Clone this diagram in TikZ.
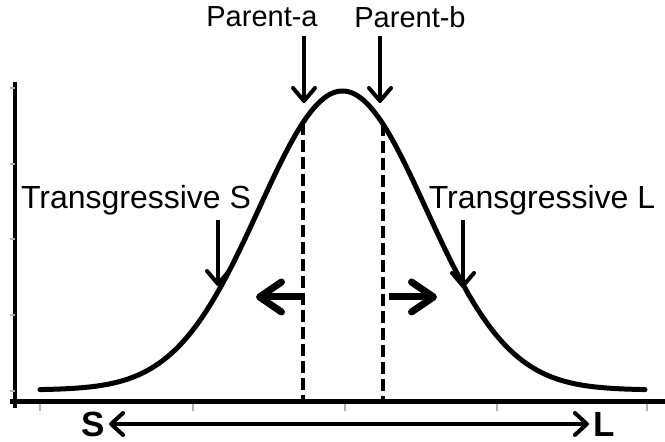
\documentclass[tikz,border=0pt]{standalone}
\usepackage{fontspec}
\setmainfont{Liberation Sans}
\usetikzlibrary{positioning,arrows.meta}
\tikzset{
axisline/.style={
line width=2.5pt
},
ytick/.style={
gray!60,
line width=0.6pt
},
bell/.style={
line width=2.5pt,
line join=round,
line cap=round
},
parentline/.style={
line width=2pt,
dash pattern=on 6pt off 2.5pt
},
lbl/.style={
font=\fontsize{14.5}{16}\selectfont,
inner sep=0pt
},
translbl/.style={
font=\fontsize{16}{18}\selectfont,
inner sep=0pt
},
endlbl/.style={
font=\fontsize{17.5}{18}\selectfont\bfseries,
inner sep=2pt
},
downarrow/.style={
line width=2pt,
-{Straight Barb[round,length=6.5pt,width=11pt]}
},
spread/.style={
line width=3.5pt,
-{Straight Barb[round,length=11pt,width=15pt]}
},
bothway/.style={
line width=2pt,
{Straight Barb[round,length=6pt,width=11pt]}-{Straight Barb[round,length=6pt,width=11pt]}
}
}

\begin{document}
\begin{tikzpicture}[x=0.5pt,y=-0.5pt,
declare function={gy(\t)=390-299*exp(-0.5*((\t-342.5)/83.5)*((\t-342.5)/83.5));}]
\useasboundingbox (0,0) rectangle (665,442);

% axes
\draw[axisline] (10,402) -- (665,402);
\draw[line width=1.8pt] (15,82) -- (15,408);
\foreach \y in {88,164,239,315,391}
\draw[ytick] (10,\y) -- (15,\y);
\foreach \x in {40,193,345,497,647}
\draw[ytick] (\x,404) -- (\x,411);

% normal curve
\draw[bell] plot[smooth,samples=121,domain=40:645] (\x,{gy(\x)});

% parents
\coordinate (da-top) at (303,{gy(303)});
\coordinate (da-bot) at (303,400);
\coordinate (db-top) at (383,{gy(383)});
\coordinate (db-bot) at (383,400);
\draw[parentline] (da-top) -- (da-bot);
\draw[parentline] (db-top) -- (db-bot);

\node[lbl](pa) at (262,17){Parent-a};
\node[lbl](pb) at (410,17){Parent-b};
\coordinate (pa-top) at (304,36);
\coordinate (pa-tip) at (304,103);
\coordinate (pb-top) at (380,36);
\coordinate (pb-tip) at (380,103);

% transgressive
\node[translbl](ts) at (136,200){Transgressive S};
\node[translbl](tl) at (542,200){Transgressive L};
\coordinate (ts-top) at (218,220);
\coordinate (ts-tip) at (218,286);
\coordinate (tl-top) at (463,220);
\coordinate (tl-tip) at (463,288);

\foreach \x/\y in {pa-top/pa-tip,pb-top/pb-tip,ts-top/ts-tip,tl-top/tl-tip}
\draw[downarrow](\x)--(\y);

% spreading out
\coordinate (ls) at (303,297);
\coordinate (le) at (256,297);
\coordinate (rs) at (389,297);
\coordinate (re) at (437,297);
\draw[spread](ls)--(le);
\draw[spread](rs)--(re);

% small to large
\node[endlbl](S) at (93,424){S};
\node[endlbl](L) at (604,424){L};
\draw[bothway](S)--(L);
\end{tikzpicture}
\end{document}
